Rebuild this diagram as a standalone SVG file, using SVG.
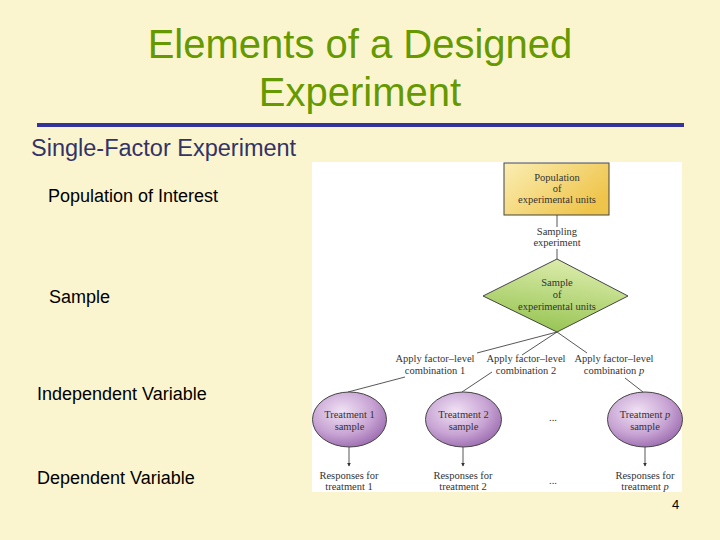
<svg xmlns="http://www.w3.org/2000/svg" width="720" height="540" viewBox="0 0 720 540">
<defs>
<linearGradient id="gBox" x1="0" y1="0" x2="1" y2="0.6">
<stop offset="0" stop-color="#faeeb4"/>
<stop offset="1" stop-color="#efc44a"/>
</linearGradient>
<linearGradient id="gDia" x1="0.7" y1="0" x2="0.4" y2="1">
<stop offset="0" stop-color="#e0eeb0"/>
<stop offset="1" stop-color="#96c452"/>
</linearGradient>
<radialGradient id="gEll" cx="0.4" cy="0.35" r="0.7">
<stop offset="0" stop-color="#f0e2f4"/>
<stop offset="0.6" stop-color="#c8a4d4"/>
<stop offset="1" stop-color="#9a6aae"/>
</radialGradient>
<marker id="arr" viewBox="0 0 6 6" refX="5" refY="3" markerWidth="4" markerHeight="4" orient="auto">
<path d="M0,0 L6,3 L0,6 z" fill="#333"/>
</marker>
<style>
.title{font-family:"Liberation Sans",Arial,sans-serif;font-size:40px;fill:#669900;text-anchor:middle}
.sub{font-family:"Liberation Sans",Arial,sans-serif;font-size:23.5px;fill:#333366}
.lbl{font-family:"Liberation Sans",Arial,sans-serif;font-size:18px;fill:#000}
.d{font-family:"Liberation Serif","Times New Roman",serif;font-size:10.5px;fill:#333;text-anchor:middle}
.shape{stroke:#444;stroke-width:1}
.conn{stroke:#444;stroke-width:0.9;fill:none}
</style>
</defs>
<rect width="720" height="540" fill="#fbf5cf"/>
<text class="title" x="360" y="58">Elements of a Designed</text>
<text class="title" x="360" y="106">Experiment</text>
<rect x="37" y="123" width="647" height="4" fill="#333399"/>
<text class="sub" x="31" y="156">Single-Factor Experiment</text>
<text class="lbl" x="48" y="202">Population of Interest</text>
<text class="lbl" x="49" y="303">Sample</text>
<text class="lbl" x="37" y="400">Independent Variable</text>
<text class="lbl" x="37" y="484">Dependent Variable</text>
<text x="672" y="509" style="font-family:'Liberation Sans',Arial,sans-serif;font-size:13px;fill:#000">4</text>
<rect x="312" y="162" width="370" height="330" fill="#ffffff"/>
<g id="connectors">
<line class="conn" x1="557" y1="215" x2="557" y2="227"/>
<line class="conn" x1="557" y1="249" x2="557" y2="259"/>
<line class="conn" x1="557" y1="332" x2="477" y2="353"/>
<line class="conn" x1="557" y1="332" x2="522" y2="355"/>
<line class="conn" x1="557" y1="332" x2="587" y2="353"/>
<line class="conn" x1="405" y1="377" x2="348" y2="392"/>
<line class="conn" x1="492" y1="372" x2="462" y2="392"/>
<line class="conn" x1="625" y1="378" x2="643" y2="392"/>
<line class="conn" x1="349" y1="447" x2="349" y2="466" marker-end="url(#arr)"/>
<line class="conn" x1="463" y1="447" x2="463" y2="466" marker-end="url(#arr)"/>
<line class="conn" x1="645" y1="447" x2="645" y2="466" marker-end="url(#arr)"/>
<text class="d" x="557" y="235">Sampling</text>
<text class="d" x="557" y="246">experiment</text>
<text class="d" x="435" y="362">Apply factor–level</text>
<text class="d" x="435" y="374">combination 1</text>
<text class="d" x="526" y="362">Apply factor–level</text>
<text class="d" x="526" y="374">combination 2</text>
<text class="d" x="614" y="362">Apply factor–level</text>
<text class="d" x="614" y="374">combination <tspan font-style="italic">p</tspan></text>
</g>
<g id="population">
<rect class="shape" x="504" y="163" width="105" height="52" fill="url(#gBox)"/>
<text class="d" x="557" y="181">Population</text>
<text class="d" x="557" y="192">of</text>
<text class="d" x="557" y="203">experimental units</text>
</g>
<g id="sample">
<polygon class="shape" points="557,259 628,296 557,332 483,296" fill="url(#gDia)"/>
<text class="d" x="557" y="286">Sample</text>
<text class="d" x="557" y="298">of</text>
<text class="d" x="557" y="310">experimental units</text>
</g>
<g id="treatment1">
<ellipse class="shape" cx="349.5" cy="419.5" rx="37" ry="27.5" fill="url(#gEll)"/>
<text class="d" x="349.5" y="418">Treatment 1</text>
<text class="d" x="349.5" y="430">sample</text>
</g>
<g id="treatment2">
<ellipse class="shape" cx="463.5" cy="419.5" rx="38" ry="27.5" fill="url(#gEll)"/>
<text class="d" x="463.5" y="418">Treatment 2</text>
<text class="d" x="463.5" y="430">sample</text>
</g>
<g id="dots1"><text class="d" x="553" y="421">...</text></g>
<g id="treatmentp">
<ellipse class="shape" cx="645" cy="419.5" rx="37.5" ry="27.5" fill="url(#gEll)"/>
<text class="d" x="645" y="418">Treatment <tspan font-style="italic">p</tspan></text>
<text class="d" x="645" y="430">sample</text>
</g>
<g id="response1">
<text class="d" x="349" y="479">Responses for</text>
<text class="d" x="349" y="490">treatment 1</text>
</g>
<g id="response2">
<text class="d" x="463" y="479">Responses for</text>
<text class="d" x="463" y="490">treatment 2</text>
</g>
<g id="dots2"><text class="d" x="553" y="484">...</text></g>
<g id="responsep">
<text class="d" x="645" y="479">Responses for</text>
<text class="d" x="645" y="490">treatment <tspan font-style="italic">p</tspan></text>
</g>
</svg>
